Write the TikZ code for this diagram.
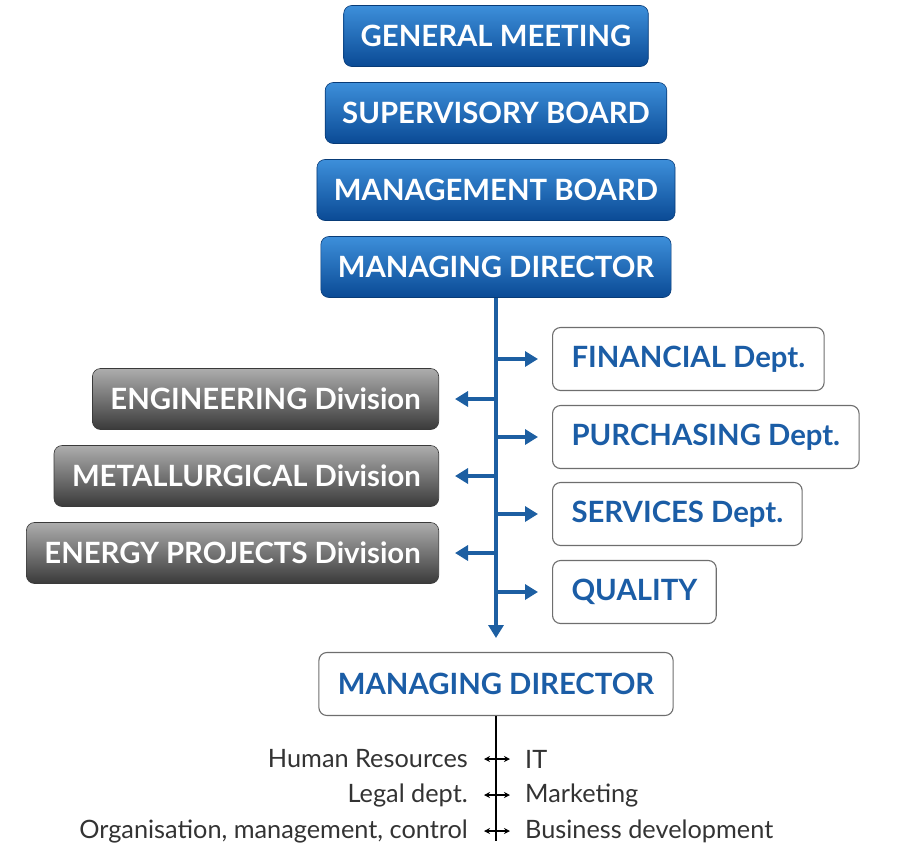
\documentclass[tikz,border=0pt]{standalone}
\usepackage{fontspec}
\setmainfont{Lato}
\usetikzlibrary{arrows.meta,shadows}
\definecolor{bluetop}{HTML}{3D8FDA}
\definecolor{bluebot}{HTML}{0A4A95}
\definecolor{graytop}{HTML}{ADADAD}
\definecolor{graybot}{HTML}{3A3A3A}
\definecolor{bluetxt}{HTML}{1B5DA6}
\definecolor{blueline}{HTML}{1D5FA2}
\definecolor{boxedge}{HTML}{6E6E6E}
\definecolor{darktxt}{HTML}{333333}
\tikzset{
  bigfont/.style={font=\fontsize{29.3}{34}\selectfont\bfseries},
  bluebox/.style={bigfont, rounded corners=8pt, top color=bluetop, bottom color=bluebot,
    text=white, minimum height=61pt, inner xsep=17pt, draw=bluebot!80!black, line width=0.6pt},
  graybox/.style={bigfont, rounded corners=8pt, top color=graytop, bottom color=graybot,
    text=white, minimum height=61pt, inner xsep=18pt, draw=graybot, line width=0.6pt, anchor=east},
  whitebox/.style={bigfont, rounded corners=8pt, fill=white, draw=boxedge, line width=1.1pt,
    text=bluetxt, minimum height=63pt, inner xsep=19pt},
  branch/.style={blueline, line width=3.5pt, -{Triangle[length=13pt,width=15pt]}},
  smalltxt/.style={font=\fontsize{25.3}{30}\selectfont, text=darktxt, inner sep=0pt},
  duo/.style={black, line width=1.2pt, {Stealth[length=6pt,width=6pt]}-{Stealth[length=6pt,width=6pt]}, shorten <=16pt, shorten >=15pt}
}
\begin{document}
\begin{tikzpicture}[x=1pt,y=-1pt]
\useasboundingbox (0,0) rectangle (915,857);
% top stack
\node[bluebox] (gm) at (496,36) {GENERAL MEETING};
\node[bluebox] (sb) at (496,113) {SUPERVISORY BOARD};
\node[bluebox] (mb) at (496,190) {MANAGEMENT BOARD};
\node[bluebox] (md) at (496,267) {MANAGING DIRECTOR};
% right departments
\node[whitebox, anchor=west] (fin) at (552,359) {FINANCIAL Dept.};
\node[whitebox, anchor=west] (pur) at (552,437) {PURCHASING Dept.};
\node[whitebox, anchor=west] (ser) at (552,514) {SERVICES Dept.};
\node[whitebox, anchor=west] (qua) at (552,592) {QUALITY};
% left divisions
\node[graybox] (eng) at (439,399) {ENGINEERING Division};
\node[graybox] (met) at (439,476) {METALLURGICAL Division};
\node[graybox] (ene) at (439,553) {ENERGY PROJECTS Division};
% bottom director
\node[whitebox] (md2) at (496,684) {MANAGING DIRECTOR};
% spine
\coordinate (spineend) at (496,638);
\draw[branch] (md.south) -- (spineend);
\foreach \n/\y in {fin/359,pur/437,ser/514,qua/592}{
  \draw[branch, shorten >=14pt] (496,\y) -- (\n.west |- 0,\y);
}
\foreach \n/\y in {eng/399,met/476,ene/553}{
  \draw[branch, shorten >=16pt] (496,\y) -- (\n.east |- 0,\y);
}
% bottom support functions
\coordinate (botend) at (496,841);
\draw[black, line width=1.3pt] (md2.south) -- (botend);
\node[smalltxt, anchor=east] (hr) at (468,759) {Human Resources};
\node[smalltxt, anchor=west] (it) at (525,759) {IT};
\node[smalltxt, anchor=east] (leg) at (468,795) {Legal dept.};
\node[smalltxt, anchor=west] (mkt) at (525,795) {Marketing};
\node[smalltxt, anchor=east] (org) at (468,831) {Organisation, management, control};
\node[smalltxt, anchor=west] (bd) at (525,831) {Business development};
\draw[duo] (hr.east) -- (it.west);
\draw[duo] (leg.east) -- (mkt.west);
\draw[duo] (org.east) -- (bd.west);
\end{tikzpicture}
\end{document}
